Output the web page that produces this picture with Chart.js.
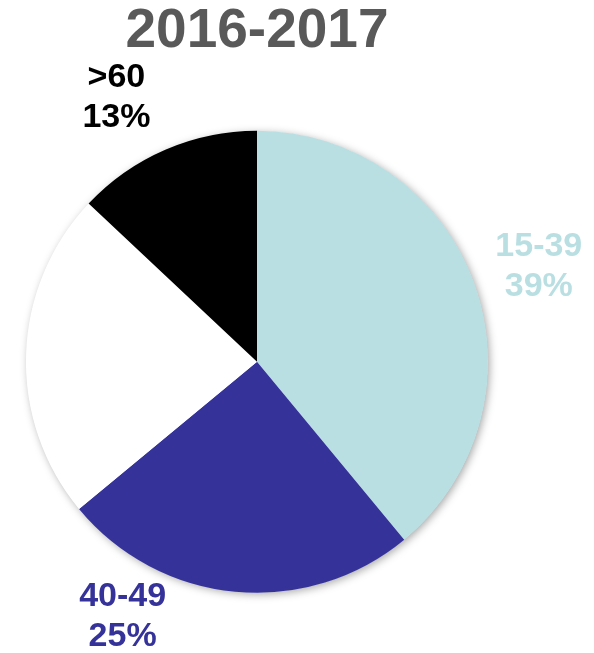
<!DOCTYPE html>
<html>
<head>
<meta charset="utf-8">
<script src="https://cdn.jsdelivr.net/npm/chart.js@4.4.0/dist/chart.umd.min.js"></script>
<style>
  html, body { margin: 0; padding: 0; background: #fff; }
  #wrap { width: 594px; height: 653px; }
</style>
</head>
<body>
<div id="wrap"><canvas id="ages"></canvas></div>
<script>
  const title = '2016-2017';
  const ageGroups = ['15-39', '40-49', '50-59', '>60'];
  const shares = [39, 25, 23, 13];
  const sliceColors = ['#b9dfe3', '#35339a', '#ffffff', '#000000'];

  // which slices get an outside label, and how far to nudge each one
  const labelNudge = [[8, 3], [-107, -35], null, [-25, 3]];

  const FONT = '"Liberation Sans", Arial, sans-serif';

  // soft shadow under the whole pie
  const pieShadow = {
    id: 'pieShadow',
    beforeDatasetsDraw(chart) {
      const arc = chart.getDatasetMeta(0).data[0];
      if (!arc) return;
      const ctx = chart.ctx;
      ctx.save();
      ctx.shadowColor = 'rgba(0,0,0,0.35)';
      ctx.shadowBlur = 9;
      ctx.shadowOffsetX = 2;
      ctx.shadowOffsetY = 2;
      ctx.fillStyle = '#fff';
      ctx.beginPath();
      ctx.arc(arc.x, arc.y, arc.outerRadius - 0.5, 0, Math.PI * 2);
      ctx.fill();
      ctx.restore();
    }
  };

  // two-line "name / percent" labels outside the slices
  const outsideLabels = {
    id: 'outsideLabels',
    afterDatasetsDraw(chart) {
      const ctx = chart.ctx;
      const meta = chart.getDatasetMeta(0);
      ctx.save();
      ctx.font = 'bold 34px ' + FONT;
      ctx.textAlign = 'center';
      ctx.textBaseline = 'middle';
      meta.data.forEach((arc, i) => {
        const nudge = labelNudge[i];
        if (!nudge) return;
        const mid = (arc.startAngle + arc.endAngle) / 2;
        const r = arc.outerRadius + 60;
        const x = arc.x + Math.cos(mid) * r + nudge[0];
        const y = arc.y + Math.sin(mid) * r + nudge[1];
        ctx.fillStyle = sliceColors[i];
        ctx.fillText(ageGroups[i], x, y - 20);
        ctx.fillText(shares[i] + '%', x, y + 20);
      });
      ctx.restore();
    }
  };

  new Chart(document.getElementById('ages'), {
    type: 'pie',
    data: {
      labels: ageGroups,
      datasets: [{
        data: shares,
        backgroundColor: sliceColors,
        borderWidth: 0,
        hoverOffset: 0
      }]
    },
    options: {
      responsive: true,
      maintainAspectRatio: false,
      animation: false,
      layout: { padding: { top: 0, left: 26, right: 106, bottom: 60 } },
      plugins: {
        legend: { display: false },
        tooltip: { enabled: false },
        title: {
          display: true,
          text: title,
          color: '#595959',
          font: { family: FONT, size: 55, weight: 'bold', lineHeight: 1.1 },
          padding: { top: 2, bottom: 68 }
        }
      }
    },
    plugins: [pieShadow, outsideLabels]
  });
</script>
</body>
</html>
